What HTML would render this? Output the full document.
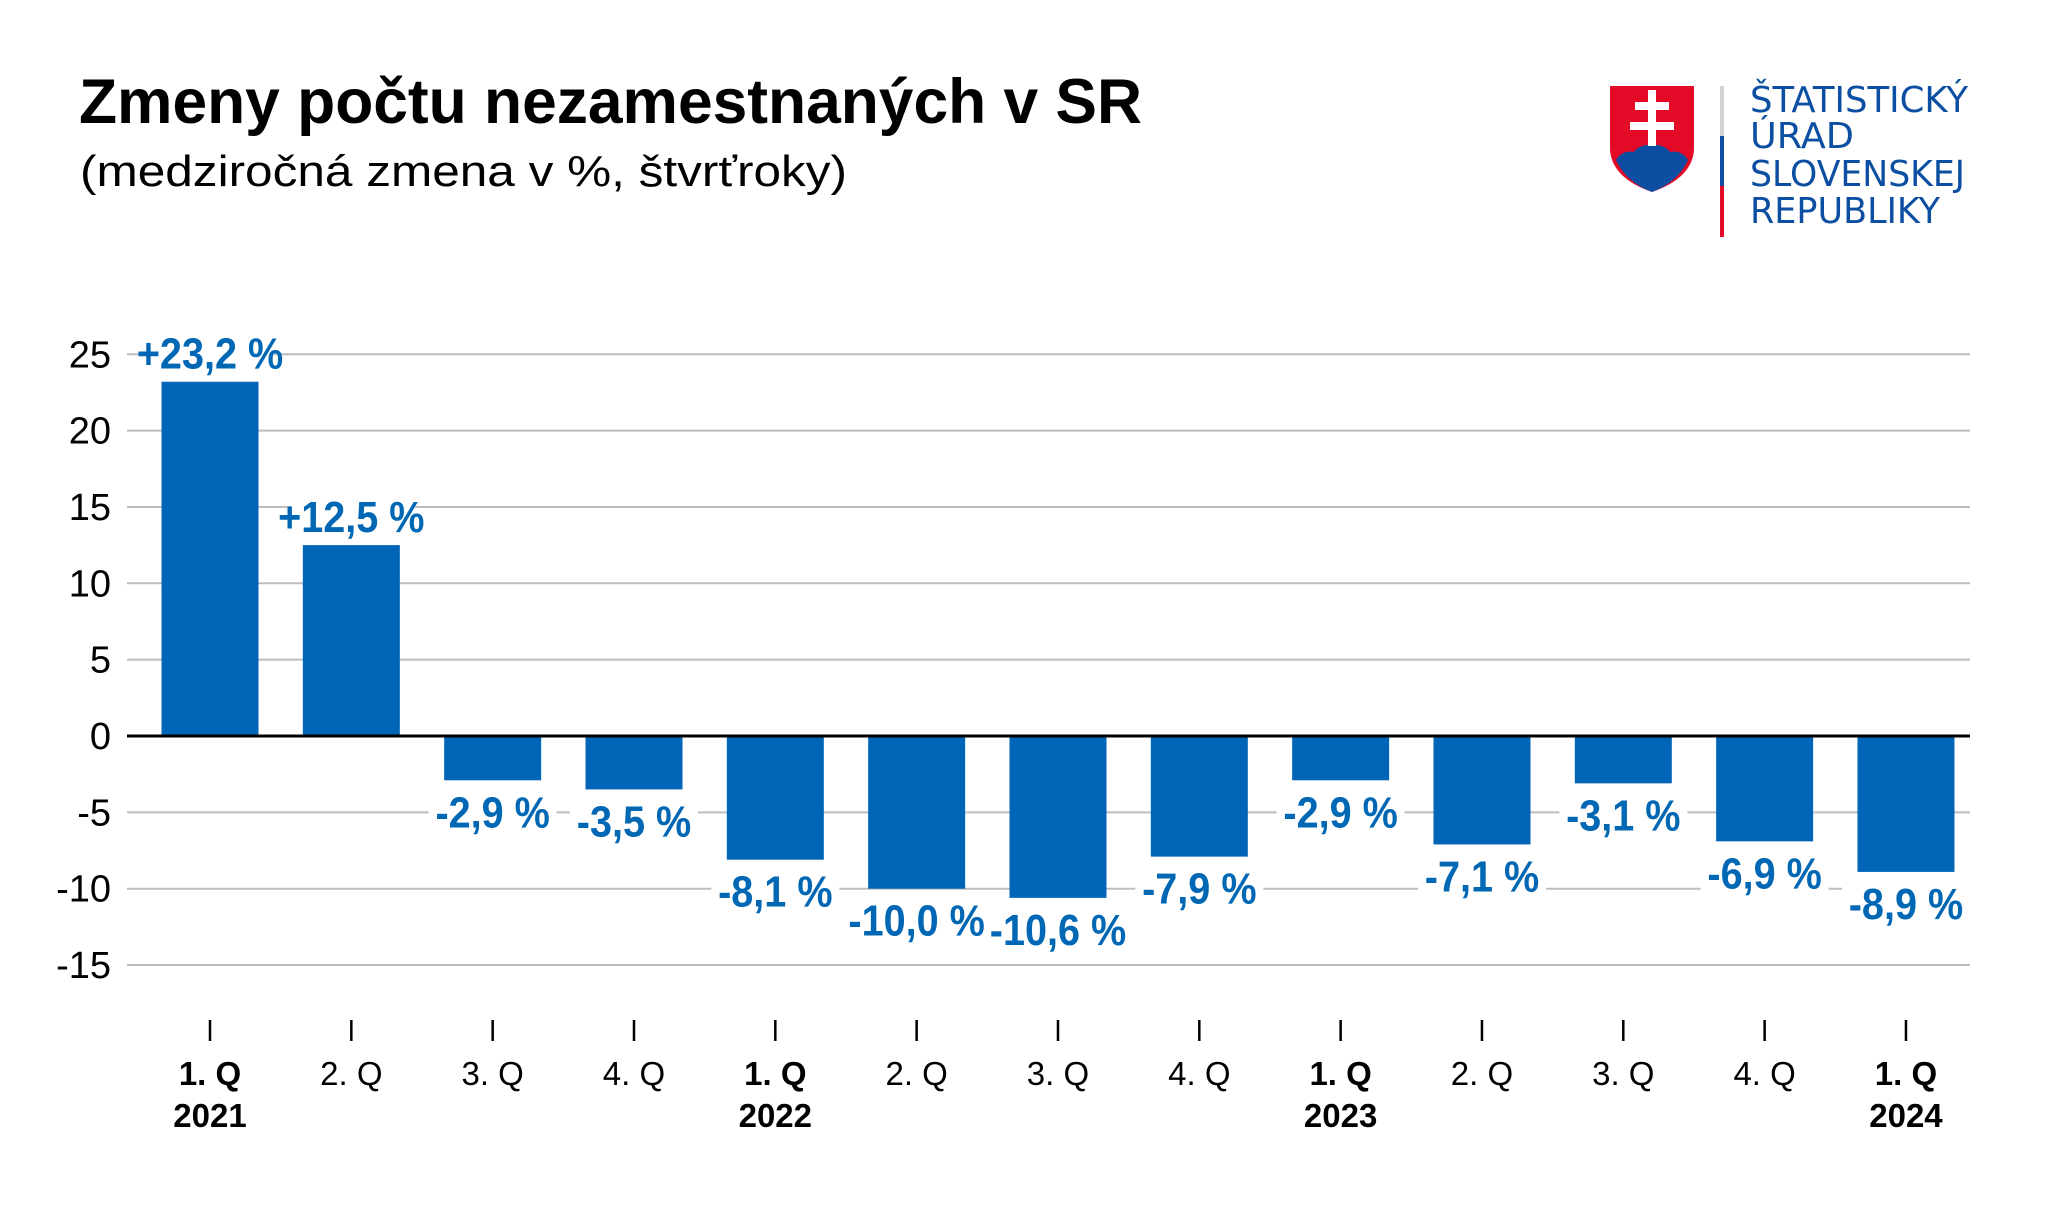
<!DOCTYPE html>
<html><head><meta charset="utf-8"><style>
html,body{margin:0;padding:0;background:#fff;}
svg{display:block;font-family:"Liberation Sans",Arial,sans-serif;}
</style></head><body>
<svg id="chart" width="2048" height="1226" viewBox="0 0 2048 1226" xmlns="http://www.w3.org/2000/svg">
<rect width="2048" height="1226" fill="#fff"/>
<text x="79" y="123" font-size="63" font-weight="bold" fill="#000" textLength="1063" lengthAdjust="spacingAndGlyphs">Zmeny počtu nezamestnaných v SR</text>
<text x="80" y="186" font-size="44" fill="#000" textLength="767" lengthAdjust="spacingAndGlyphs">(medziročná zmena v %, štvrťroky)</text>
<g>
<path d="M1610 86 L1694 86 L1694 150 Q1692 178 1652 192 Q1612 178 1610 150 Z" fill="#e30a27"/>
<path d="M1616 160 Q1622 150 1634 152 Q1640 144 1652 145 Q1664 144 1670 152 Q1682 150 1688 160 Q1678 182 1652 192 Q1626 182 1616 160 Z" fill="#0b4ea2"/>
<path d="M1648 90 h8 v12 h13 v8 h-13 v12 h18 v8 h-18 v16 h-8 v-16 h-18 v-8 h18 v-12 h-13 v-8 h13 z" fill="#fff"/>
<rect x="1720" y="86" width="4" height="50" fill="#d0d2d3"/>
<rect x="1720" y="136" width="4" height="50" fill="#0b4ea2"/>
<rect x="1720" y="186" width="4" height="51" fill="#e30a27"/>
<g font-size="36" fill="#0b4ea2" font-family="'DejaVu Sans','Liberation Sans',sans-serif">
<text x="1750" y="112" textLength="218" lengthAdjust="spacingAndGlyphs">ŠTATISTICKÝ</text>
<text x="1750" y="148" textLength="104" lengthAdjust="spacingAndGlyphs">ÚRAD</text>
<text x="1750" y="186" textLength="215" lengthAdjust="spacingAndGlyphs">SLOVENSKEJ</text>
<text x="1750" y="223" textLength="190" lengthAdjust="spacingAndGlyphs">REPUBLIKY</text>
</g>
</g>
<g id="grid"></g><g id="bars"></g><g id="labels"></g><g id="xaxis"></g>
</svg>
<script>
const quarters = ["1. Q","2. Q","3. Q","4. Q","1. Q","2. Q","3. Q","4. Q","1. Q","2. Q","3. Q","4. Q","1. Q"];
const years = ["2021","","","","2022","","","","2023","","","","2024"];
const values = [23.2,12.5,-2.9,-3.5,-8.1,-10.0,-10.6,-7.9,-2.9,-7.1,-3.1,-6.9,-8.9];
const yTicks = [25,20,15,10,5,0,-5,-10,-15];

const NS="http://www.w3.org/2000/svg";
const zeroY=736, pxPerUnit=15.27, x0=210, step=141.33, barW=97, plotL=127, plotR=1970;
const yS=v=>zeroY-v*pxPerUnit;
const xS=i=>x0+i*step;
function mk(tag,attrs,parent){const e=document.createElementNS(NS,tag);for(const k in attrs)e.setAttribute(k,attrs[k]);parent.appendChild(e);return e;}
const grid=document.getElementById('grid'),bars=document.getElementById('bars'),labels=document.getElementById('labels'),xaxis=document.getElementById('xaxis');
yTicks.forEach(t=>{
  if(t!==0){const l=mk('line',{x1:plotL,x2:plotR,y1:yS(t),y2:yS(t),stroke:'#bdbdbd','stroke-width':2},grid);
  
  }
  const tx=mk('text',{x:111,y:yS(t)+13,'font-size':38,'text-anchor':'end',fill:'#000'},grid);
  tx.textContent=String(t);
  
  
});
values.forEach((v,i)=>{
  const y=Math.min(yS(v),zeroY),h=Math.abs(yS(v)-zeroY);
  const r=mk('rect',{x:xS(i)-barW/2,y:y,width:barW,height:h,fill:'#0064b7'},bars);
  
  
  const txt=(v>0?'+':'')+v.toFixed(1).replace('.',',')+' %';
  const ly=v>0?yS(v)-13:yS(v)+47;
  const bg=mk('rect',{x:xS(i)-64,y:ly-34,width:128,height:42,fill:'#fff'},labels);
  
  
  const t=mk('text',{x:0,y:0,'font-size':44,'font-weight':'bold','text-anchor':'middle',fill:'#0067b4',transform:'translate('+xS(i)+','+ly+') scale(0.9,1)'},labels);
  t.textContent=txt;
  
  
  const tk=mk('line',{x1:xS(i),x2:xS(i),y1:1020,y2:1041,stroke:'#000','stroke-width':2.5},xaxis);
  
  
  const q=mk('text',{x:xS(i),y:1085,'font-size':33,'text-anchor':'middle',fill:'#000','font-weight':years[i]?'bold':'normal'},xaxis);
  q.textContent=quarters[i];
  
  
  if(years[i]){const yr=mk('text',{x:xS(i),y:1127,'font-size':33,'text-anchor':'middle','font-weight':'bold',fill:'#000'},xaxis);
  yr.textContent=years[i];
  
  }
});
const z=mk('line',{x1:plotL,x2:plotR,y1:zeroY,y2:zeroY,stroke:'#000','stroke-width':3},bars);


</script>
</body></html>
